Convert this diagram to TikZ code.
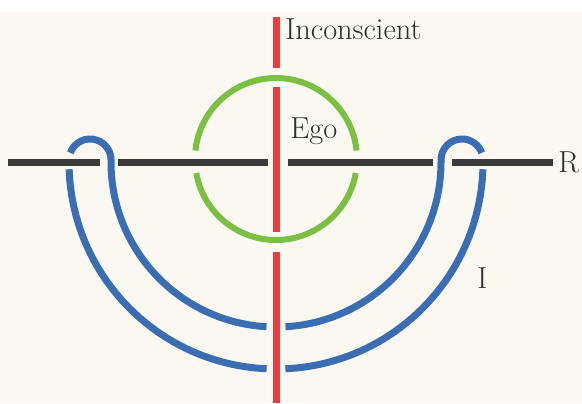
\documentclass[tikz,border=0pt]{standalone}
\usepackage{tikz}
\usetikzlibrary{calc}
\definecolor{paper}{HTML}{FAF8F0}
\definecolor{egogreen}{HTML}{7CC043}
\definecolor{axisred}{HTML}{EC3A3E}
\definecolor{loopblue}{HTML}{3B6DB3}
\definecolor{realgray}{HTML}{3C3B3A}
\definecolor{ink}{HTML}{2E2E2E}
\tikzset{
  axis/.style={draw=axisred, line width=3.5pt},
  egoarc/.style={draw=egogreen, line width=3pt},
  reel/.style={draw=realgray, line width=3.5pt},
  boucle/.style={draw=loopblue, line width=3.5pt},
  lbl/.style={font=\fontsize{15.2}{17}\selectfont, text=ink, inner sep=0pt},
}
\begin{document}
\begin{tikzpicture}[x=0.5pt,y=0.5pt]
% page
\fill[white] (0,0) rectangle (582,403);
\fill[paper] (0,0) rectangle (582,391);
\useasboundingbox (0,0) rectangle (582,403);
\coordinate (O) at (276,241);
\coordinate (E) at (276,244);
% reel
\foreach \a/\b in {8/100,118/268,288/433,452/553}
  \draw[reel] (\a,241)--(\b,241);
% ego
\draw[egoarc] ([shift={(6:81)}]E) arc[start angle=6,end angle=174,radius=81];
\draw[egoarc] ([shift={(190:81)}]E) arc[start angle=190,end angle=350,radius=81];
% axe
\draw[axis] (276,386)--(276,335);
\draw[axis] (276,316)--(276,171);
\draw[axis] (276,151)--(276,0);
% boucle
\draw[boucle] ([shift={(182:207)}]O) arc[start angle=182,end angle=267.4,radius=207];
\draw[boucle] ([shift={(272.6:207)}]O) arc[start angle=272.6,end angle=358,radius=207];
\draw[boucle] (70.3,250.2) arc[start angle=160,end angle=0,radius=21]
  -- (111,241) arc[start angle=180,end angle=266.7,radius=165];
\draw[boucle] ([shift={(273.3:165)}]O) arc[start angle=273.3,end angle=360,radius=165]
  -- (441,243) arc[start angle=180,end angle=20,radius=21];
% labels
\node[lbl,anchor=base west] (inc) at (285,364) {Inconscient};
\node[lbl,anchor=base west] (ego) at (290,265) {Ego};
\node[lbl,anchor=base west] (r) at (558,231) {R};
\node[lbl,anchor=base west] (i) at (477,115) {I};
\end{tikzpicture}
\end{document}
